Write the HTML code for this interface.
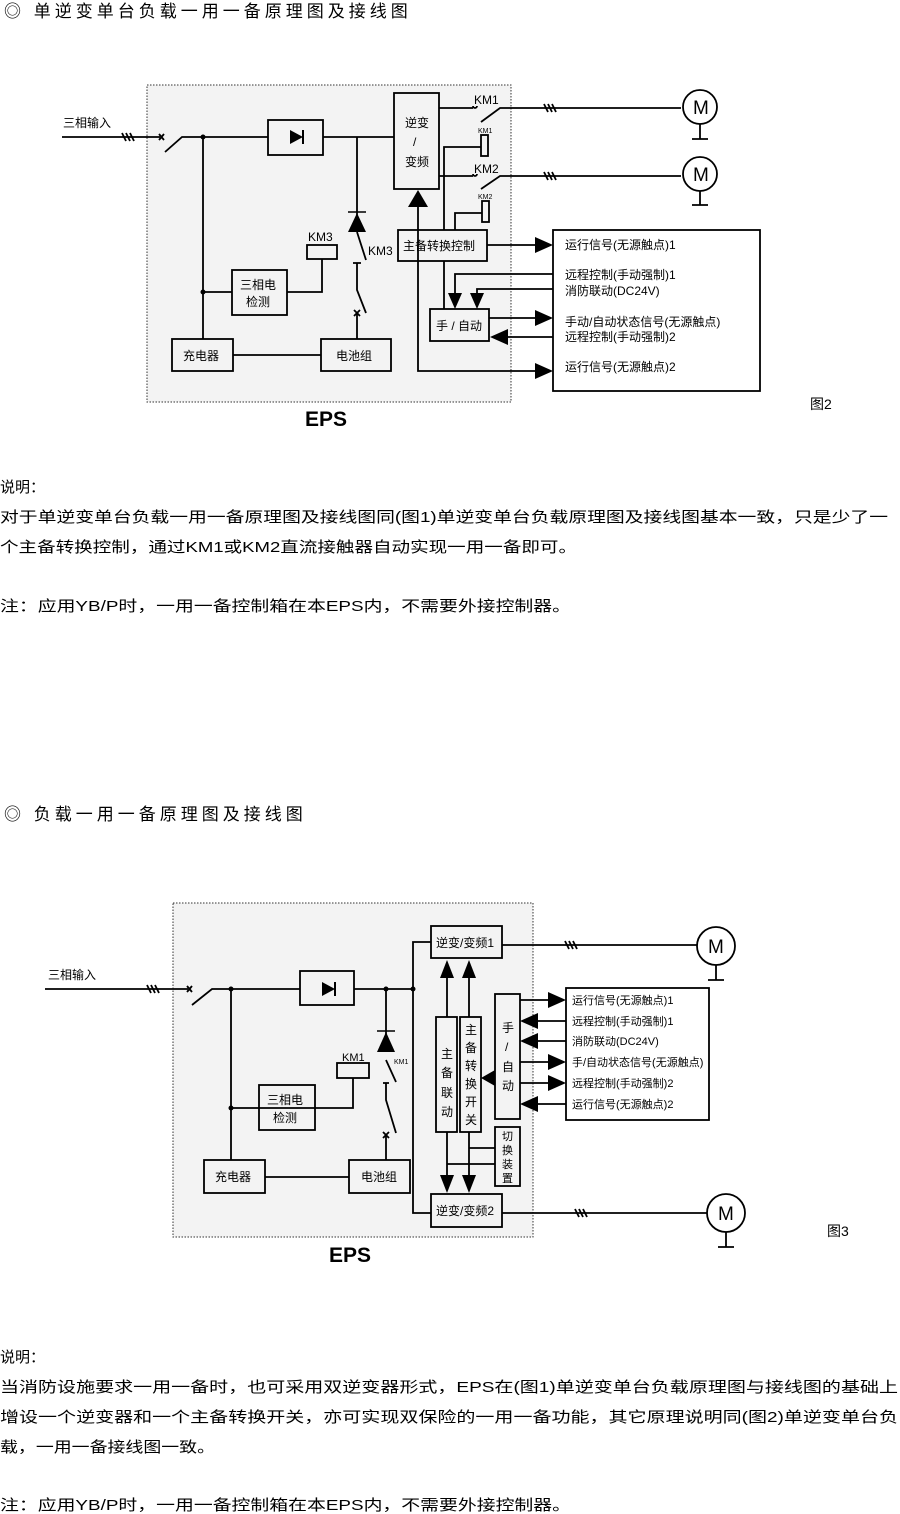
<!DOCTYPE html>
<html><head><meta charset="utf-8"><style>
html,body{margin:0;padding:0;background:#fff;}
svg{display:block;font-family:"Liberation Sans","Noto Sans CJK SC",sans-serif;}
</style></head><body>
<svg width="900" height="1514" viewBox="0 0 900 1514" xmlns="http://www.w3.org/2000/svg">
<g fill="#000">
<text x="4" y="17" font-size="17" letter-spacing="4">◎ 单逆变单台负载一用一备原理图及接线图</text>
<text x="4" y="820" font-size="17" letter-spacing="4">◎ 负载一用一备原理图及接线图</text>
</g>

<!-- ===== Diagram 1 ===== -->
<rect x="147" y="85" width="364" height="317" fill="#f3f3f3" stroke="#333" stroke-width="1" stroke-dasharray="1.5,1.5"/>
<g stroke="#000" stroke-width="1.8" fill="none">
<line x1="62" y1="137" x2="160" y2="137"/>
<path d="M122 133l4 8M126 133l4 8M130 133l4 8"/>
<path d="M159 134l5 6M164 134l-5 6"/>
<path d="M165 152L182 137H268"/>
<rect x="268" y="120" width="55" height="35"/>
<path d="M323 137H394"/>
<path d="M203 137V339M203 292H232M287 292H322V259"/>
<rect x="307" y="245" width="30" height="14"/>
<rect x="232" y="270" width="55" height="45"/>
<path d="M357 137V232M357 232L366 260M353 263H361M357 263V290L366 313M357 313V339"/>
<path d="M354 310l6 6M360 310l-6 6"/>
<rect x="172" y="339" width="61" height="32"/>
<rect x="321" y="339" width="70" height="32"/>
<path d="M233 355H321"/>
<rect x="394" y="93" width="45" height="96"/>
<rect x="398" y="230" width="89" height="31"/>
<path d="M418 205V371H535"/>
<path d="M439 108H473M439 176H473"/>
<path d="M473 106a2 2 0 0 0 4 0M473 174a2 2 0 0 0 4 0"/>
<path d="M481 122L500 108H681M481 189L500 176H681"/>
<path d="M544 104l4 8M548 104l4 8M552 104l4 8M544 172l4 8M548 172l4 8M552 172l4 8"/>
<circle cx="700" cy="107" r="17"/><circle cx="700" cy="174" r="17"/>
<path d="M700 124V139M692 139H708M700 191V205M692 205H708"/>
<rect x="481" y="135" width="7" height="21"/>
<rect x="482" y="201" width="7" height="21"/>
<path d="M481 147H444V230M482 213H455V230"/>
<path d="M487 245H535"/>
<rect x="553" y="230" width="207" height="161"/>
<rect x="430" y="309" width="59" height="32"/>
<path d="M444 261V309"/>
<path d="M455 293V274H553M477 293V289H553"/>
<path d="M489 318H535M508 337H553"/>
</g>
<g fill="#000">
<polygon points="290,130 290,144 303,137"/><line x1="303" y1="130" x2="303" y2="144" stroke="#000" stroke-width="2"/>
<polygon points="357,213 348,232 366,232"/><line x1="348" y1="212" x2="366" y2="212" stroke="#000" stroke-width="1.5"/>
<polygon points="418,190 408,207 428,207"/>
<polygon points="553,245 535,237 535,253"/>
<polygon points="553,318 535,310 535,326"/>
<polygon points="553,371 535,363 535,379"/>
<polygon points="490,337 508,329 508,345"/>
<polygon points="455,309 448,293 462,293"/>
<polygon points="477,309 470,293 484,293"/>
</g>
<g fill="#000" font-size="12">
<text x="63" y="127">三相输入</text>
<text x="308" y="241">KM3</text>
<text x="368" y="255">KM3</text>
<text x="240" y="289">三相电</text>
<text x="246" y="306">检测</text>
<text x="183" y="360">充电器</text>
<text x="336" y="360">电池组</text>
<text x="405" y="127">逆变</text>
<text x="413" y="146">/</text>
<text x="405" y="166">变频</text>
<text x="403" y="250">主备转换控制</text>
<text x="436" y="330">手 / 自动</text>
<text x="474" y="104">KM1</text>
<text x="474" y="173">KM2</text>
<text x="478" y="133" font-size="7">KM1</text>
<text x="478" y="199" font-size="7">KM2</text>
<text x="565" y="249">运行信号(无源触点)1</text>
<text x="565" y="279">远程控制(手动强制)1</text>
<text x="565" y="295">消防联动(DC24V)</text>
<text x="565" y="326">手动/自动状态信号(无源触点)</text>
<text x="565" y="341">远程控制(手动强制)2</text>
<text x="565" y="371">运行信号(无源触点)2</text>
<text x="693" y="114" font-size="19">M</text>
<text x="693" y="181" font-size="19">M</text>
<text x="810" y="409" font-size="14">图2</text>
<text x="305" y="426" font-size="21" font-weight="bold">EPS</text>
</g>

<!-- text block 1 -->
<g fill="#000" font-size="15">
<text x="0" y="492">说明：</text>
<text x="0" y="522" textLength="888" lengthAdjust="spacingAndGlyphs">对于单逆变单台负载一用一备原理图及接线图同(图1)单逆变单台负载原理图及接线图基本一致，只是少了一</text>
<text x="0" y="552" textLength="577" lengthAdjust="spacingAndGlyphs">个主备转换控制，通过KM1或KM2直流接触器自动实现一用一备即可。</text>
<text x="0" y="611" textLength="571" lengthAdjust="spacingAndGlyphs">注：应用YB/P时，一用一备控制箱在本EPS内，不需要外接控制器。</text>
</g>

<!-- ===== Diagram 2 ===== -->
<rect x="173" y="903" width="360" height="334" fill="#f3f3f3" stroke="#333" stroke-width="1" stroke-dasharray="1.5,1.5"/>
<g stroke="#000" stroke-width="1.8" fill="none">
<line x1="45" y1="989" x2="188" y2="989"/>
<path d="M147 985l4 8M151 985l4 8M155 985l4 8"/>
<path d="M187 986l5 6M192 986l-5 6"/>
<path d="M192 1005L212 989H300"/>
<rect x="300" y="971" width="54" height="34"/>
<path d="M354 989H413"/>
<path d="M231 989V1160M231 1108H353V1078"/>
<rect x="259" y="1085" width="56" height="45"/>
<rect x="337" y="1063" width="32" height="15"/>
<path d="M386 989V1052M386 1060L396 1082M383 1083H389M386 1083V1100L396 1133M386 1135V1160"/>
<path d="M383 1132l6 6M389 1132l-6 6"/>
<rect x="204" y="1160" width="61" height="33"/>
<rect x="349" y="1160" width="61" height="33"/>
<path d="M265 1177H349"/>
<path d="M431 942H413V1213H431"/>
<rect x="431" y="926" width="71" height="32"/>
<rect x="431" y="1194" width="71" height="33"/>
<rect x="436" y="1017" width="21" height="115"/>
<rect x="460" y="1017" width="21" height="115"/>
<path d="M447 978V1017M469 978V1017M447 1132V1175M469 1132V1175"/>
<rect x="495" y="994" width="25" height="125"/>
<rect x="495" y="1127" width="25" height="59"/>
<path d="M469 1148H495M447 1164H495"/>
<path d="M520 1000H548M538 1021H566M538 1041H566M520 1062H548M520 1083H548M538 1104H566"/>
<rect x="566" y="988" width="143" height="132"/>
<path d="M502 945H697M502 1213H707"/>
<path d="M565 941l4 8M569 941l4 8M573 941l4 8M575 1209l4 8M579 1209l4 8M583 1209l4 8"/>
<circle cx="716" cy="946" r="19"/><circle cx="726" cy="1213" r="19"/>
<path d="M716 965V980M708 980H724M726 1232V1247M718 1247H734"/>
</g>
<g fill="#000">
<circle cx="231" cy="989" r="2.5"/><circle cx="231" cy="1108" r="2.5"/><circle cx="386" cy="989" r="2.5"/><circle cx="413" cy="989" r="2.5"/>
<circle cx="203" cy="137" r="2.5"/><circle cx="203" cy="292" r="2.5"/>
<polygon points="322,982 322,996 335,989"/><line x1="335" y1="982" x2="335" y2="996" stroke="#000" stroke-width="2"/>
<polygon points="386,1032 377,1052 395,1052"/><line x1="377" y1="1031" x2="395" y2="1031" stroke="#000" stroke-width="1.5"/>
<polygon points="447,960 440,978 454,978"/>
<polygon points="469,960 462,978 476,978"/>
<polygon points="447,1193 440,1175 454,1175"/>
<polygon points="469,1193 462,1175 476,1175"/>
<polygon points="481,1078 495,1070 495,1086"/>
<polygon points="566,1000 548,992 548,1008"/>
<polygon points="520,1021 538,1013 538,1029"/>
<polygon points="520,1041 538,1033 538,1049"/>
<polygon points="566,1062 548,1054 548,1070"/>
<polygon points="566,1083 548,1075 548,1091"/>
<polygon points="520,1104 538,1096 538,1112"/>
</g>
<g fill="#000" font-size="12">
<text x="48" y="979">三相输入</text>
<text x="342" y="1061" font-size="11">KM1</text>
<text x="394" y="1064" font-size="7">KM1</text>
<text x="267" y="1104">三相电</text>
<text x="273" y="1122">检测</text>
<text x="215" y="1181">充电器</text>
<text x="361" y="1181">电池组</text>
<text x="436" y="947">逆变/变频1</text>
<text x="436" y="1215">逆变/变频2</text>
<text x="441" y="1058">主</text><text x="441" y="1077">备</text><text x="441" y="1097">联</text><text x="441" y="1116">动</text>
<text x="465" y="1034">主</text><text x="465" y="1052">备</text><text x="465" y="1070">转</text><text x="465" y="1088">换</text><text x="465" y="1106">开</text><text x="465" y="1124">关</text>
<text x="502" y="1032">手</text><text x="505" y="1051">/</text><text x="502" y="1071">自</text><text x="502" y="1090">动</text>
<g font-size="11"><text x="502" y="1140">切</text><text x="502" y="1154">换</text><text x="502" y="1168">装</text><text x="502" y="1182">置</text></g>
<g font-size="11">
<text x="572" y="1004">运行信号(无源触点)1</text>
<text x="572" y="1025">远程控制(手动强制)1</text>
<text x="572" y="1045">消防联动(DC24V)</text>
<text x="572" y="1066">手/自动状态信号(无源触点)</text>
<text x="572" y="1087">远程控制(手动强制)2</text>
<text x="572" y="1108">运行信号(无源触点)2</text>
</g>
<text x="708" y="953" font-size="19">M</text>
<text x="718" y="1220" font-size="19">M</text>
<text x="827" y="1236" font-size="14">图3</text>
<text x="329" y="1262" font-size="21" font-weight="bold">EPS</text>
</g>

<!-- text block 2 -->
<g fill="#000" font-size="15">
<text x="0" y="1362">说明：</text>
<text x="0" y="1392" textLength="898" lengthAdjust="spacingAndGlyphs">当消防设施要求一用一备时，也可采用双逆变器形式，EPS在(图1)单逆变单台负载原理图与接线图的基础上</text>
<text x="0" y="1422" textLength="898" lengthAdjust="spacingAndGlyphs">增设一个逆变器和一个主备转换开关，亦可实现双保险的一用一备功能，其它原理说明同(图2)单逆变单台负</text>
<text x="0" y="1452" textLength="215" lengthAdjust="spacingAndGlyphs">载，一用一备接线图一致。</text>
<text x="0" y="1510" textLength="571" lengthAdjust="spacingAndGlyphs">注：应用YB/P时，一用一备控制箱在本EPS内，不需要外接控制器。</text>
</g>
</svg>
</body></html>
